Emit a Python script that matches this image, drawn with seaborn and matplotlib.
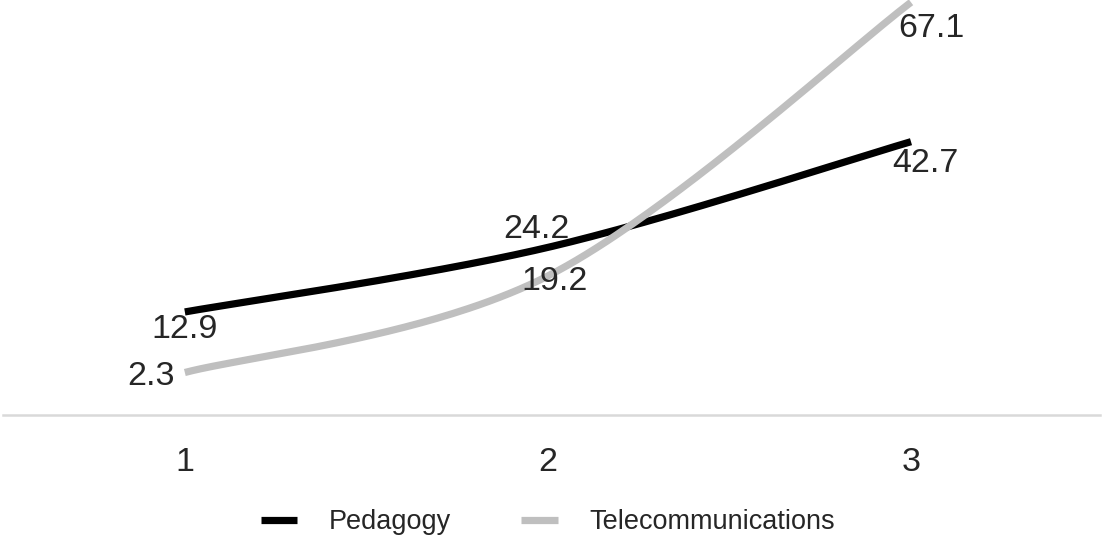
import numpy as np
import pandas as pd
import matplotlib
matplotlib.use("Agg")
import matplotlib.pyplot as plt
import seaborn as sns

# dados
categorias = [1, 2, 3]
pedagogy = [12.9, 24.2, 42.7]
telecom = [2.3, 19.2, 67.1]
nomes = ["Pedagogy", "Telecommunications"]

cores = {"Pedagogy": "#000000", "Telecommunications": "#bfbfbf"}
# deslocamento dos rótulos em pixels (dx, dy, ha)
rotulos_pos = {
    "Pedagogy": [(0, -18, "center"), (-11, 18, "center"), (14, -22, "center")],
    "Telecommunications": [(-10, -4, "right"), (7, -6, "center"), (20, -26, "center")],
}


def suavizar(xs, ys, n=80):
    # curva suave (tipo Excel) passando pelos pontos
    pts = np.column_stack([xs, ys]).astype(float)
    pts = np.vstack([pts[0], pts, pts[-1]])
    t = np.linspace(0, 1, n)[:, None]
    h00 = 2 * t**3 - 3 * t**2 + 1
    h10 = t**3 - 2 * t**2 + t
    h01 = -2 * t**3 + 3 * t**2
    h11 = t**3 - t**2
    out = []
    for i in range(1, len(pts) - 2):
        p0, p1, p2, p3 = pts[i - 1], pts[i], pts[i + 1], pts[i + 2]
        m1 = (p2 - p0) / 2
        m2 = (p3 - p1) / 2
        seg = h00 * p1 + h10 * m1 + h01 * p2 + h11 * m2
        out.append(seg if i == 1 else seg[1:])
    return np.vstack(out)


def main():
    sns.set_theme(style="white")
    plt.rcParams["font.family"] = ["Liberation Sans", "DejaVu Sans"]

    valores = {"Pedagogy": pedagogy, "Telecommunications": telecom}
    partes = []
    for nome in nomes:
        curva = suavizar(categorias, valores[nome])
        partes.append(pd.DataFrame({"x": curva[:, 0], "valor": curva[:, 1], "serie": nome}))
    df = pd.concat(partes, ignore_index=True)

    fig = plt.figure(figsize=(11.02, 5.44), dpi=100)
    ax = fig.add_axes([0.003, 0.237, 0.995, 0.763])

    sns.lineplot(
        data=df,
        x="x",
        y="valor",
        hue="serie",
        hue_order=nomes,
        palette=cores,
        linewidth=5.2,
        sort=False,
        estimator=None,
        ax=ax,
    )
    for linha in ax.lines:
        linha.set_clip_on(False)
        linha.set_solid_capstyle("butt")

    for nome in nomes:
        for i, (xv, yv) in enumerate(zip(categorias, valores[nome])):
            dx, dy, ha = rotulos_pos[nome][i]
            ax.annotate(
                f"{yv}",
                xy=(xv, yv),
                xytext=(dx, dy),
                textcoords="offset pixels",
                ha=ha,
                va="center",
                fontsize=24.5,
                color="#262626",
                zorder=10,
            )

    ax.set_xlim(0.5, 3.52)
    ax.set_ylim(-5.15, 67.5)
    ax.set_xticks(categorias)
    ax.set_xticklabels([str(c) for c in categorias])
    ax.set_yticks([])
    ax.set_xlabel("")
    ax.set_ylabel("")
    ax.tick_params(axis="x", length=0, pad=23, labelsize=24.5, labelcolor="#262626")
    for lado in ["top", "left", "right"]:
        ax.spines[lado].set_visible(False)
    ax.spines["bottom"].set_color("#d9d9d9")
    ax.spines["bottom"].set_linewidth(1.8)

    handles, labels = ax.get_legend_handles_labels()
    ax.get_legend().remove()
    fig.legend(
        handles,
        labels,
        loc="center",
        bbox_to_anchor=(0.497, 0.04),
        ncol=2,
        frameon=False,
        fontsize=19.5,
        handlelength=1.35,
        handletextpad=1.15,
        columnspacing=2.6,
    )

    fig.savefig("out.png", dpi=100)
    plt.close(fig)


if __name__ == "__main__":
    main()
